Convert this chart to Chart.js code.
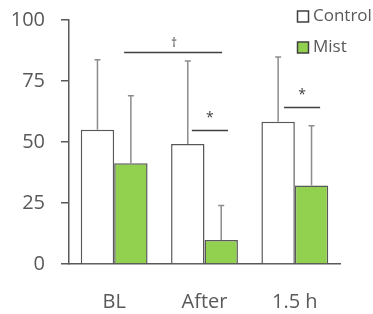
<!DOCTYPE html>
<html>
<head>
<meta charset="utf-8">
<script src="https://cdn.jsdelivr.net/npm/chart.js@4/dist/chart.umd.min.js"></script>
<style>
html,body{margin:0;padding:0;background:#fff;}
#wrap{width:373px;height:314px;position:relative;}
</style>
</head>
<body>
<div id="wrap"><canvas id="c" width="373" height="314"></canvas></div>
<script>
const categories = ['BL', 'After', '1.5 h'];
const seriesNames = ['Control', 'Mist'];
const controlMeans = [55, 49.2, 58.3];
const controlErr = [28.7, 34, 26.5];
const mistMeans = [41.3, 9.8, 32.2];
const mistErr = [27.7, 14.2, 24.5];
const yTicks = [0, 25, 50, 75, 100];
// significance brackets: start/end in category-index units, height in value units
const sigFrom = [0.11, 0.86, 1.88];
const sigTo = [1.195, 1.26, 2.28];
const sigLevel = [86.9, 55, 64.3];
const sigLabel = ['\u2020', '*', '*'];

const FONT = '"Open Sans", "Noto Sans", sans-serif';
const TXT = '#595959';

const errorBars = {
  id: 'errorBars',
  afterDatasetsDraw(chart) {
    const ctx = chart.ctx;
    const y = chart.scales.y;
    const errs = [controlErr, mistErr];
    ctx.save();
    ctx.strokeStyle = '#8c8c8c';
    ctx.lineWidth = 1.5;
    chart.data.datasets.forEach((ds, di) => {
      const meta = chart.getDatasetMeta(di);
      meta.data.forEach((bar, i) => {
        const top = y.getPixelForValue(ds.data[i] + errs[di][i]);
        const base = y.getPixelForValue(ds.data[i]);
        ctx.beginPath();
        ctx.moveTo(bar.x, base);
        ctx.lineTo(bar.x, top);
        ctx.moveTo(bar.x - 3, top);
        ctx.lineTo(bar.x + 3, top);
        ctx.stroke();
      });
    });
    ctx.restore();
  }
};

const sigPlugin = {
  id: 'sig',
  afterDatasetsDraw(chart) {
    const ctx = chart.ctx;
    const x = chart.scales.x, y = chart.scales.y;
    ctx.save();
    ctx.strokeStyle = '#404040';
    ctx.fillStyle = '#404040';
    ctx.lineWidth = 1.5;
    ctx.textAlign = 'center';
    ctx.textBaseline = 'middle';
    for (let k = 0; k < sigFrom.length; k++) {
      const x0 = x.getPixelForValue(sigFrom[k]);
      const x1 = x.getPixelForValue(sigTo[k]);
      const yy = Math.round(y.getPixelForValue(sigLevel[k])) + 0.5;
      ctx.beginPath();
      ctx.moveTo(x0, yy);
      ctx.lineTo(x1, yy);
      ctx.stroke();
      if (sigLabel[k] === '*') {
        ctx.font = '14px ' + FONT;
        ctx.fillText(sigLabel[k], (x0 + x1) / 2, yy - 12);
      } else {
        ctx.font = '12px ' + FONT;
        ctx.fillText(sigLabel[k], (x0 + x1) / 2 + 1, yy - 9);
      }
    }
    ctx.restore();
  }
};

const legendPlugin = {
  id: 'customLegend',
  afterDraw(chart) {
    const ctx = chart.ctx;
    ctx.save();
    ctx.font = '17px ' + FONT;
    ctx.textBaseline = 'middle';
    ctx.textAlign = 'left';
    chart.data.datasets.forEach((ds, i) => {
      const cy = 16.5 + i * 31;
      ctx.fillStyle = ds.backgroundColor;
      ctx.fillRect(297.5, cy - 5.5, 11, 11);
      ctx.strokeStyle = '#404040';
      ctx.lineWidth = 1.5;
      ctx.strokeRect(297.5, cy - 5.5, 11, 11);
      ctx.fillStyle = TXT;
      ctx.fillText(ds.label, 313, cy);
    });
    ctx.restore();
  }
};

new Chart(document.getElementById('c'), {
  type: 'bar',
  data: {
    labels: categories,
    datasets: [
      { label: seriesNames[0], data: controlMeans, backgroundColor: '#ffffff', borderColor: '#595959', borderWidth: 1.5 },
      { label: seriesNames[1], data: mistMeans, backgroundColor: '#92d050', borderColor: '#595959', borderWidth: 1.5 }
    ]
  },
  options: {
    responsive: false,
    animation: false,
    devicePixelRatio: 1,
    layout: { padding: { top: 20, right: 33, left: 0, bottom: 0 } },
    datasets: { bar: { categoryPercentage: 0.74, barPercentage: 1.0 } },
    plugins: { legend: { display: false }, tooltip: { enabled: false } },
    scales: {
      x: {
        grid: { display: false },
        border: { display: true, color: '#595959', width: 1.5 },
        ticks: { color: TXT, font: { family: FONT, size: 20 }, padding: 18 },
        afterFit(s) { s.height = 50; s.paddingLeft = 0; s.paddingRight = 0; }
      },
      y: {
        min: 0, max: 100,
        afterBuildTicks(s) { s.ticks = yTicks.map(v => ({ value: v })); },
        grid: { display: true, drawOnChartArea: false, drawTicks: true, tickLength: 8, color: '#595959', lineWidth: 1.5 },
        border: { display: true, color: '#595959', width: 1.5 },
        ticks: { color: TXT, font: { family: FONT, size: 20 }, padding: 16 },
        afterFit(s) { s.width = 69; s.paddingTop = 0; s.paddingBottom = 0; }
      }
    }
  },
  plugins: [errorBars, sigPlugin, legendPlugin]
});
</script>
</body>
</html>
